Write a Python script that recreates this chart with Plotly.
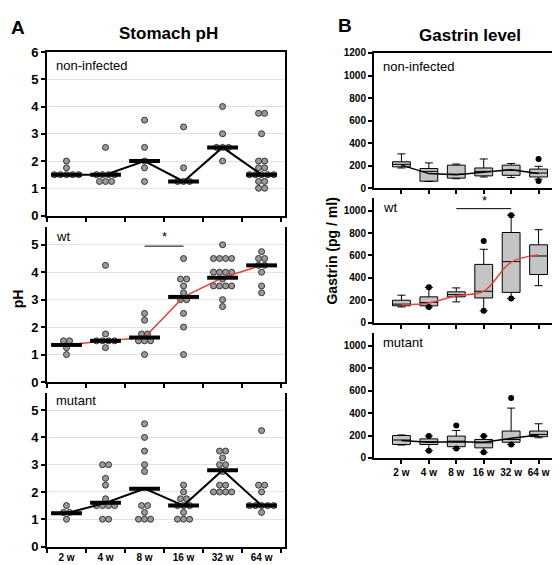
import plotly.graph_objects as go
from collections import Counter

weeks = ["2 w", "4 w", "8 w", "16 w", "32 w", "64 w"]

# ---- Panel A: stomach pH (individual animals) ----
ph_noninf = [
    [2.0, 1.75, 1.5, 1.5, 1.5, 1.5, 1.5],
    [2.5, 1.5, 1.5, 1.5, 1.5, 1.25, 1.25, 1.25],
    [3.5, 2.5, 2.0, 1.75, 1.25],
    [3.25, 1.75, 1.25, 1.25, 1.25],
    [4.0, 3.0, 2.5, 2.5, 2.5, 2.0],
    [3.75, 3.75, 3.0, 2.0, 2.0, 1.75, 1.75, 1.5, 1.5, 1.5, 1.5, 1.5, 1.25, 1.25, 1.0, 1.0],
]
ph_wt = [
    [1.5, 1.5, 1.25, 1.0],
    [4.25, 1.75, 1.5, 1.5, 1.5, 1.5, 1.25],
    [2.5, 2.25, 1.75, 1.75, 1.5, 1.5, 1.5, 1.0],
    [4.5, 3.75, 3.75, 3.5, 3.25, 3.0, 3.0, 2.5, 2.0, 1.0],
    [5.0, 4.5, 4.5, 4.5, 4.5, 4.0, 4.0, 4.0, 4.0, 3.75, 3.5, 3.5, 3.5, 3.5, 3.0, 2.75],
    [4.75, 4.5, 4.5, 4.25, 4.25, 4.0, 3.5, 3.25],
]
ph_mut = [
    [1.5, 1.25, 1.25, 1.0],
    [3.0, 3.0, 2.5, 2.25, 1.75, 1.5, 1.5, 1.5, 1.5, 1.0, 1.0],
    [4.5, 4.0, 3.5, 3.0, 2.75, 1.5, 1.5, 1.25, 1.0, 1.0, 1.0],
    [2.25, 2.0, 1.75, 1.75, 1.5, 1.5, 1.5, 1.25, 1.0, 1.0, 1.0],
    [3.5, 3.5, 3.25, 3.0, 3.0, 2.75, 2.25, 2.25, 2.0, 2.0, 2.0, 2.0],
    [4.25, 2.25, 2.25, 2.0, 1.5, 1.5, 1.5, 1.5, 1.5, 1.25],
]
ph_med_noninf = [1.5, 1.5, 2.0, 1.25, 2.5, 1.5]
ph_med_wt = [1.35, 1.5, 1.62, 3.1, 3.8, 4.25]
ph_med_mut = [1.22, 1.6, 2.12, 1.5, 2.8, 1.5]

# ---- Panel B: gastrin (box statistics) ----
g_noninf = dict(low=[180, 60, 85, 100, 95, 80], q1=[190, 63, 90, 110, 115, 100],
                med=[212, 150, 125, 150, 160, 135], q3=[235, 175, 205, 180, 205, 170],
                high=[305, 225, 215, 260, 220, 195])
g_noninf_line = [205, 130, 120, 145, 165, 130]
g_noninf_out_x = [5, 5]
g_noninf_out_y = [260, 65]

g_wt = dict(low=[140, 140, 185, 105, 215, 330], q1=[150, 150, 230, 220, 270, 430],
            med=[165, 180, 250, 280, 545, 595], q3=[200, 230, 275, 520, 805, 695],
            high=[245, 315, 310, 655, 960, 830])
g_wt_line = [160, 175, 240, 280, 540, 605]
g_wt_out_x = [1, 1, 3, 3, 4, 4]
g_wt_out_y = [315, 140, 730, 105, 960, 215]

g_mut = dict(low=[115, 65, 85, 50, 120, 180], q1=[120, 120, 100, 90, 140, 190],
             med=[160, 145, 150, 135, 165, 210], q3=[200, 170, 195, 165, 240, 240],
             high=[205, 195, 245, 195, 445, 305])
g_mut_line = [155, 140, 145, 140, 175, 205]
g_mut_out_x = [1, 1, 2, 2, 3, 3, 4, 4]
g_mut_out_y = [195, 65, 290, 85, 195, 50, 535, 120]

W, H = 560, 565
FONT = "Liberation Sans, Arial, sans-serif"


def px_x(p):
    return p / W


def px_y(p):
    return 1 - p / H


fig = go.Figure()


def swarm(groups, spacing=0.155):
    xs, ys = [], []
    for i, g in enumerate(groups):
        cnt = Counter(g)
        seen = Counter()
        for v in g:
            k = cnt[v]
            j = seen[v]
            seen[v] += 1
            xs.append(i + (j - (k - 1) / 2) * spacing)
            ys.append(v)
    return xs, ys


def add_ph(groups, meds, n, line_color, line_w):
    xs, ys = swarm(groups)
    ax = "" if n == 1 else str(n)
    fig.add_trace(go.Scatter(x=xs, y=ys, mode="markers", xaxis="x" + ax, yaxis="y" + ax,
                             marker=dict(size=6, color="#9a9a9a", line=dict(color="#333333", width=1)),
                             showlegend=False, hoverinfo="skip"))
    fig.add_trace(go.Scatter(x=list(range(6)), y=meds, mode="lines", xaxis="x" + ax, yaxis="y" + ax,
                             line=dict(color=line_color, width=line_w), showlegend=False))
    fig.add_trace(go.Scatter(x=list(range(6)), y=meds, mode="markers", xaxis="x" + ax, yaxis="y" + ax,
                             marker=dict(symbol="line-ew", size=22, line=dict(color="black", width=4)),
                             showlegend=False))


add_ph(ph_noninf, ph_med_noninf, 1, "black", 2)
add_ph(ph_wt, ph_med_wt, 2, "#e0463c", 1.5)
add_ph(ph_mut, ph_med_mut, 3, "black", 2)


def add_box(st, line_vals, ox, oy, n, line_color, line_w, spline):
    ax = str(n)
    fig.add_trace(go.Box(x=list(range(6)), q1=st["q1"], median=st["med"], q3=st["q3"],
                         lowerfence=st["low"], upperfence=st["high"], xaxis="x" + ax, yaxis="y" + ax,
                         fillcolor="#c4c4c4", line=dict(color="black", width=1), width=0.65,
                         whiskerwidth=0.45, boxpoints=False, showlegend=False))
    fig.add_trace(go.Scatter(x=ox, y=oy, mode="markers", xaxis="x" + ax, yaxis="y" + ax,
                             marker=dict(size=6, color="black"), showlegend=False))
    fig.add_trace(go.Scatter(x=list(range(6)), y=line_vals, mode="lines", xaxis="x" + ax, yaxis="y" + ax,
                             line=dict(color=line_color, width=line_w, shape="spline" if spline else "linear"),
                             showlegend=False))


add_box(g_noninf, g_noninf_line, g_noninf_out_x, g_noninf_out_y, 4, "black", 1.5, False)
add_box(g_wt, g_wt_line, g_wt_out_x, g_wt_out_y, 5, "#e0463c", 1.5, True)
add_box(g_mut, g_mut_line, g_mut_out_x, g_mut_out_y, 6, "black", 1.5, False)

# ---- axes ----
a_x = [px_x(39), px_x(277)]
b_x = [px_x(366), px_x(558)]
a_y = [(206, 38, 6), (377, 218, 5.64), (546, 388, 5.64)]
b_y = [(178, 39, 1200), (316, 188, 1113), (455, 327, 1113)]

layout = dict(width=W, height=H, margin=dict(l=0, r=0, t=0, b=0),
              plot_bgcolor="white", paper_bgcolor="white", showlegend=False,
              font=dict(family=FONT, color="black"))

for i in range(3):
    n = i + 1
    key = "" if n == 1 else str(n)
    bot, top, rmax = a_y[i]
    layout["xaxis" + key] = dict(
        domain=a_x, range=[-0.5, 5.6], anchor="y" + key,
        tickmode="array", tickvals=list(range(6)),
        ticktext=weeks if n == 3 else [""] * 6, ticks="",
        tickfont=dict(size=10, weight="bold", family=FONT),
        minor=dict(tickmode="array", tickvals=[-0.5, 0.5, 1.5, 2.5, 3.5, 4.5, 5.5],
                   ticks="outside", ticklen=4, tickwidth=1.5, tickcolor="black", showgrid=False),
        showgrid=False, zeroline=False, showline=True, linecolor="black", linewidth=2,
        mirror=(n == 1))
    layout["yaxis" + key] = dict(
        domain=[px_y(bot), px_y(top)], range=[0, rmax], anchor="x" + key,
        tickmode="array", tickvals=list(range(0, 7 if n == 1 else 6)),
        ticks="outside", ticklen=4, tickwidth=1.5, tickcolor="black",
        tickfont=dict(size=13, weight="bold", family=FONT),
        showgrid=True, gridcolor="#e2e2e2", gridwidth=1, zeroline=False,
        showline=True, linecolor="black", linewidth=2, mirror=True)

for i in range(3):
    n = i + 4
    key = str(n)
    bot, top, rmax = b_y[i]
    layout["xaxis" + key] = dict(
        domain=b_x, range=[-1, 6], anchor="y" + key,
        tickmode="array", tickvals=list(range(6)),
        ticktext=weeks if n == 6 else [""] * 6,
        ticks="outside", ticklen=4, tickwidth=1.5, tickcolor="black",
        tickfont=dict(size=10, weight="bold", family=FONT),
        showgrid=False, zeroline=False, showline=True, linecolor="black", linewidth=2,
        mirror=(n == 4))
    layout["yaxis" + key] = dict(
        domain=[px_y(bot), px_y(top)], range=[0, rmax], anchor="x" + key,
        tickmode="array", tickvals=list(range(0, 1201 if n == 4 else 1001, 200)),
        ticks="outside", ticklen=4, tickwidth=1.5, tickcolor="black",
        tickfont=dict(size=10, weight="bold", family=FONT),
        showgrid=False, zeroline=False,
        showline=True, linecolor="black", linewidth=2, mirror=True)

fig.update_layout(**layout)

# significance bars
fig.add_shape(type="line", xref="x2", yref="y2", x0=2, x1=3, y0=4.95, y1=4.95,
              line=dict(color="black", width=1))
fig.add_shape(type="line", xref="x5", yref="y5", x0=2, x1=4, y0=1018, y1=1018,
              line=dict(color="black", width=1))


def txt(x, y, s, size, bold=False, angle=0, xanchor="center"):
    fig.add_annotation(x=px_x(x), y=px_y(y), xref="paper", yref="paper", text=s, showarrow=False,
                       xanchor=xanchor, yanchor="middle", textangle=angle,
                       font=dict(size=size, family=FONT, color="black", weight="bold" if bold else "normal"))


txt(156, 228, "*", 13)
txt(476, 191, "*", 13)
txt(10, 13, "A", 19, True)
txt(337, 11, "B", 19, True)
txt(160, 19, "Stomach pH", 17, True)
txt(462, 21, "Gastrin level", 17, True)
txt(10, 292, "pH", 14, True, -90)
txt(324, 243, "Gastrin (pg / ml)", 14, True, -90)
for yy, s in [(52, "non-infected"), (228, "wt"), (396, "mutant")]:
    txt(46, yy, s, 13, False, 0, "left")
for yy, s in [(53, "non-infected"), (198, "wt"), (336, "mutant")]:
    txt(373, yy, s, 13, False, 0, "left")

fig.write_html("out.html")
